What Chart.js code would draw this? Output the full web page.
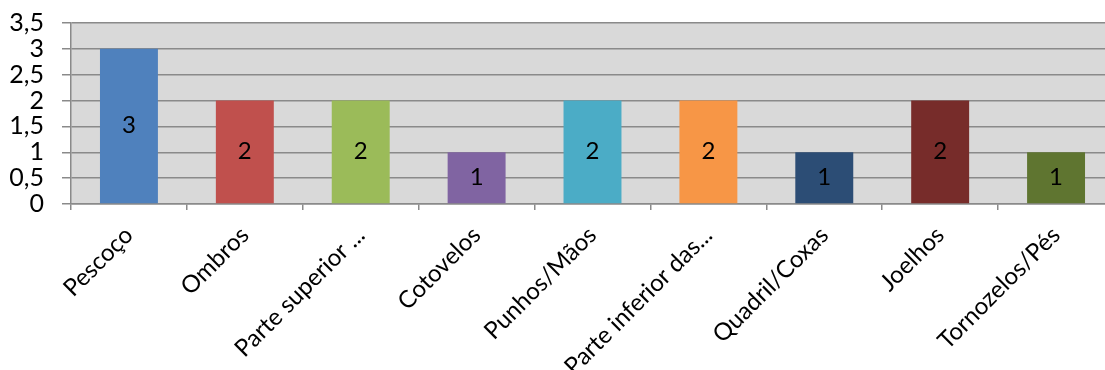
<!DOCTYPE html>
<html>
<head>
<meta charset="utf-8">
<script src="https://cdn.jsdelivr.net/npm/chart.js@4"></script>
<style>
  html, body { margin: 0; padding: 0; background: #fff; overflow: hidden; }
  #wrap { width: 1120px; height: 370px; }
</style>
</head>
<body>
<div id="wrap"><canvas id="chart"></canvas></div>
<script>
var regioes = ["Pescoço", "Ombros", "Parte superior ...", "Cotovelos", "Punhos/Mãos",
  "Parte inferior das...", "Quadril/Coxas", "Joelhos", "Tornozelos/Pés"];
var casos = [3, 2, 2, 1, 2, 2, 1, 2, 1];
var cores = ["#4F81BD", "#C0504D", "#9BBB59", "#8064A2", "#4BACC6",
  "#F79646", "#2C4D75", "#772C2A", "#5F7530"];

var fonte = "Lato, 'Open Sans', sans-serif";

// fundo cinza da área de plotagem
var fundoPlot = {
  id: "fundoPlot",
  beforeDraw: function (chart) {
    var a = chart.chartArea, ctx = chart.ctx;
    ctx.save();
    ctx.fillStyle = "#d9d9d9";
    ctx.fillRect(a.left, a.top, a.right - a.left, a.bottom - a.top);
    ctx.restore();
  }
};

// valor no meio de cada barra
var rotulos = {
  id: "rotulos",
  afterDatasetsDraw: function (chart) {
    var ctx = chart.ctx;
    var meta = chart.getDatasetMeta(0);
    ctx.save();
    ctx.fillStyle = "#000";
    ctx.font = "24px " + fonte;
    ctx.textAlign = "center";
    ctx.textBaseline = "middle";
    meta.data.forEach(function (bar, i) {
      var y = (bar.y + bar.base) / 2;
      ctx.fillText(String(casos[i]), bar.x, y - 1);
    });
    ctx.restore();
  }
};

var ctx = document.getElementById("chart");
new Chart(ctx, {
  type: "bar",
  data: {
    labels: regioes,
    datasets: [{
      data: casos,
      backgroundColor: cores,
      borderWidth: 0,
      barPercentage: 0.5,
      categoryPercentage: 1
    }]
  },
  options: {
    responsive: true,
    maintainAspectRatio: false,
    animation: false,
    layout: { padding: { top: 23, right: 6, left: 0, bottom: 0 } },
    plugins: {
      legend: { display: false },
      tooltip: { enabled: false }
    },
    scales: {
      y: {
        min: 0,
        max: 3.5,
        ticks: {
          stepSize: 0.5,
          autoSkip: false,
          color: "#000",
          padding: 18,
          font: { family: fonte, size: 25 },
          callback: function (v) { return String(v).replace(".", ","); }
        },
        grid: { color: "#8a8a8a", lineWidth: 1.5, tickLength: 9 },
        border: { color: "#8a8a8a", width: 1.5 },
        afterFit: function (s) {
          s.width = 71;
          s.paddingTop = 0;
          s.paddingBottom = 0;
        }
      },
      x: {
        ticks: {
          color: "#000",
          maxRotation: 45,
          minRotation: 45,
          autoSkip: false,
          padding: 11,
          font: { family: fonte, size: 24 }
        },
        grid: { color: "#8a8a8a", lineWidth: 1.5, drawOnChartArea: false, tickLength: 6, offset: true },
        border: { color: "#8a8a8a", width: 1.5 },
        afterFit: function (s) { s.height = 166; }
      }
    }
  },
  plugins: [fundoPlot, rotulos]
});
</script>
</body>
</html>
